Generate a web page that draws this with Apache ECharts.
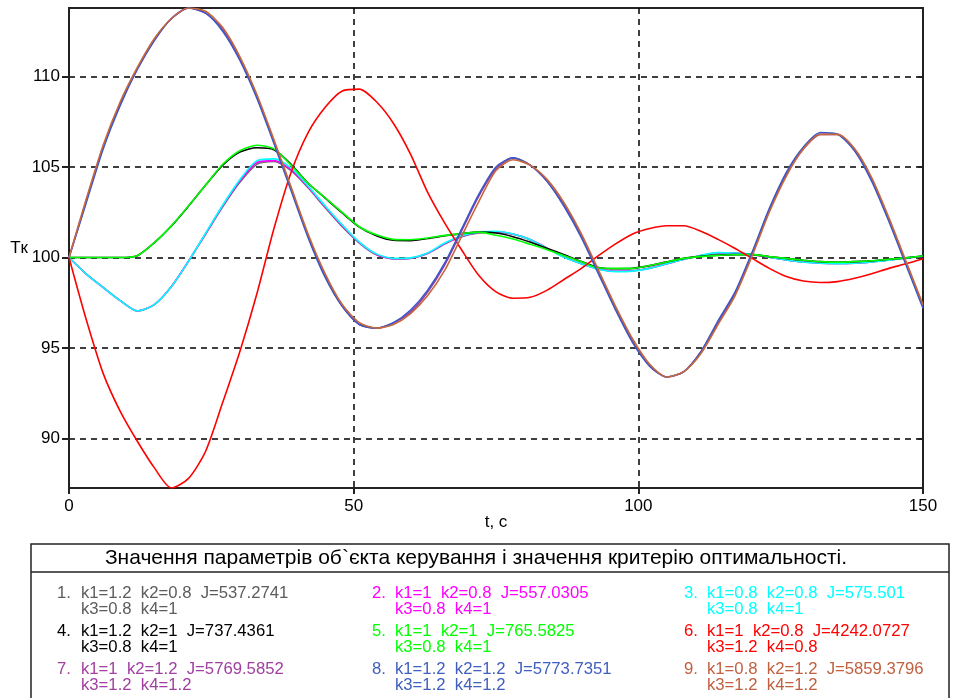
<!DOCTYPE html>
<html>
<head>
<meta charset="utf-8">
<script src="https://cdn.jsdelivr.net/npm/echarts@6/dist/echarts.min.js"></script>
<style>
  html, body { margin: 0; padding: 0; background: #ffffff; }
  #chart { width: 953px; height: 698px; }
</style>
</head>
<body>
<div id="chart"></div>
<script>
// Simulation time, s
const timeS = [0, 3, 6, 9, 12, 15, 18, 21, 24, 27, 30, 33, 36, 39, 42, 45, 48, 51, 54, 57,
  60, 63, 66, 69, 72, 75, 78, 81, 84, 87, 90, 93, 96, 99, 102, 105, 108, 111, 114, 117,
  120, 123, 126, 129, 132, 135, 138, 141, 144, 147, 150];

// Tк responses for the nine parameter sets
const tk1 = [100, 99.1, 98.35, 97.62, 97.05, 97.4, 98.4, 99.8, 101.3, 102.8, 104.15, 105.15, 105.3, 104.8, 103.85, 102.75, 101.7, 100.8, 100.15, 99.92,
  99.95, 100.22, 100.75, 101.15, 101.35, 101.4, 101.28, 100.98, 100.5, 100.02, 99.66, 99.37, 99.24, 99.27, 99.42, 99.66, 99.9, 100.1, 100.24, 100.23,
  100.16, 100.02, 99.87, 99.75, 99.69, 99.67, 99.69, 99.76, 99.86, 99.97, 100.07];
const tk2 = [100, 99.1, 98.35, 97.62, 97.05, 97.4, 98.4, 99.8, 101.32, 102.85, 104.22, 105.25, 105.35, 104.85, 103.9, 102.8, 101.75, 100.82, 100.17, 99.93,
  99.96, 100.23, 100.77, 101.17, 101.38, 101.42, 101.3, 101.0, 100.52, 100.03, 99.66, 99.37, 99.24, 99.26, 99.41, 99.65, 99.9, 100.11, 100.25, 100.24,
  100.17, 100.02, 99.87, 99.75, 99.69, 99.67, 99.69, 99.76, 99.86, 99.97, 100.07];
const tk3 = [100, 99.1, 98.35, 97.62, 97.05, 97.4, 98.4, 99.8, 101.35, 102.9, 104.3, 105.35, 105.45, 104.95, 103.95, 102.85, 101.8, 100.85, 100.2, 99.95,
  99.98, 100.25, 100.8, 101.2, 101.4, 101.45, 101.3, 101.0, 100.5, 100.0, 99.65, 99.35, 99.22, 99.25, 99.4, 99.65, 99.9, 100.12, 100.27, 100.25,
  100.18, 100.02, 99.86, 99.74, 99.68, 99.66, 99.68, 99.75, 99.85, 99.97, 100.08];
const tk4 = [100, 100, 100, 100, 100.1, 100.82, 101.74, 102.84, 104.0, 105.1, 105.82, 106.06, 105.95, 105.15, 104.1, 103.28, 102.46, 101.68, 101.2, 100.95,
  100.93, 101.05, 101.2, 101.32, 101.4, 101.35, 101.15, 100.85, 100.5, 100.15, 99.78, 99.45, 99.38, 99.4, 99.55, 99.76, 99.95, 100.06, 100.13, 100.16,
  100.16, 100.05, 99.95, 99.85, 99.77, 99.74, 99.77, 99.82, 99.9, 99.98, 100.08];
const tk5 = [100, 100, 100, 100, 100.1, 100.82, 101.76, 102.86, 104.0, 105.15, 105.9, 106.2, 106.0, 105.1, 104.1, 103.3, 102.49, 101.7, 101.25, 101.0,
  100.98, 101.08, 101.22, 101.32, 101.4, 101.23, 101.02, 100.73, 100.43, 100.1, 99.77, 99.43, 99.4, 99.4, 99.56, 99.75, 99.95, 100.05, 100.12, 100.15,
  100.16, 100.05, 99.95, 99.85, 99.77, 99.74, 99.77, 99.82, 99.9, 99.98, 100.08];
const tk6 = [100, 96.6, 93.6, 91.5, 89.85, 88.38, 87.27, 87.8, 89.3, 92.0, 94.8, 98.0, 101.6, 104.7, 106.9, 108.3, 109.2, 109.3, 108.6, 107.4,
  105.7, 103.6, 101.9, 100.4, 99.0, 98.1, 97.75, 97.8, 98.2, 98.8, 99.4, 100.1, 100.75, 101.3, 101.6, 101.75, 101.75, 101.45, 101.0, 100.5,
  99.95, 99.4, 98.95, 98.7, 98.62, 98.67, 98.85, 99.1, 99.4, 99.65, 99.93];
const tk7 = [100, 103.1, 106.1, 108.5, 110.4, 112.0, 113.2, 113.78, 113.5, 112.6, 111.0, 108.9, 106.4, 103.8, 101.2, 99.0, 97.3, 96.3, 96.1, 96.4,
  97.0, 98.1, 99.6, 101.5, 103.4, 104.9, 105.5, 105.1, 104.2, 102.9, 101.2, 99.2, 97.2, 95.4, 94.0, 93.4, 93.7, 94.8, 96.4, 98.0,
  100.2, 102.6, 104.6, 106.0, 106.8, 106.8, 105.9, 104.3, 102.1, 99.7, 97.3];
const tk8 = [100, 103.0, 106.0, 108.4, 110.4, 112.0, 113.2, 113.78, 113.5, 112.5, 110.9, 108.8, 106.3, 103.7, 101.1, 98.9, 97.3, 96.3, 96.1, 96.4,
  97.1, 98.2, 99.7, 101.6, 103.5, 105.0, 105.5, 105.1, 104.2, 102.8, 101.1, 99.1, 97.1, 95.3, 94.0, 93.4, 93.7, 94.8, 96.5, 98.1,
  100.3, 102.7, 104.7, 106.1, 106.9, 106.8, 105.9, 104.2, 102.0, 99.6, 97.2];
const tk9 = [100, 103.2, 106.2, 108.6, 110.5, 112.1, 113.2, 113.78, 113.6, 112.7, 111.1, 109.0, 106.5, 103.9, 101.3, 99.1, 97.4, 96.4, 96.1, 96.3,
  96.9, 97.9, 99.3, 101.2, 103.1, 104.8, 105.4, 105.1, 104.3, 103.0, 101.3, 99.3, 97.3, 95.5, 94.1, 93.4, 93.7, 94.7, 96.3, 97.9,
  100.1, 102.5, 104.5, 106.0, 106.8, 106.8, 106.0, 104.4, 102.2, 99.8, 97.4];

const responses = [tk1, tk2, tk3, tk4, tk5, tk6, tk7, tk8, tk9];
const lineColors = ['#6e6e6e', '#ff00ff', '#00ffff', '#000000', '#00ff00', '#ff0000', '#9a3aa6', '#3a58c8', '#c4683e'];
const textColors = ['#5c5c5c', '#ff00ff', '#00ffff', '#000000', '#00ff00', '#ff0000', '#a040a0', '#4060c0', '#c06040'];

// Axis ticks
const yTicks = [90, 95, 100, 105, 110];

// Legend panel text
const panelTitle = 'Значення параметрів об`єкта керування і значення критерію оптимальності.';
const entryNums = ['1.', '2.', '3.', '4.', '5.', '6.', '7.', '8.', '9.'];
const entryLine1 = [
  'k1=1.2  k2=0.8  J=537.2741',
  'k1=1  k2=0.8  J=557.0305',
  'k1=0.8  k2=0.8  J=575.501',
  'k1=1.2  k2=1  J=737.4361',
  'k1=1  k2=1  J=765.5825',
  'k1=1  k2=0.8  J=4242.0727',
  'k1=1  k2=1.2  J=5769.5852',
  'k1=1.2  k2=1.2  J=5773.7351',
  'k1=0.8  k2=1.2  J=5859.3796'
];
const entryLine2 = [
  'k3=0.8  k4=1', 'k3=0.8  k4=1', 'k3=0.8  k4=1',
  'k3=0.8  k4=1', 'k3=0.8  k4=1', 'k3=1.2  k4=0.8',
  'k3=1.2  k4=1.2', 'k3=1.2  k4=1.2', 'k3=1.2  k4=1.2'
];

const FONT = '"Liberation Sans", Arial, sans-serif';
const chart = echarts.init(document.getElementById('chart'));

const series = responses.map((vals, i) => ({
  name: entryNums[i],
  type: 'line',
  data: timeS.map((t, k) => [t, vals[k]]),
  showSymbol: false,
  symbol: 'none',
  smooth: 0.25,
  clip: true,
  lineStyle: { color: lineColors[i], width: 1.6 },
  itemStyle: { color: lineColors[i] },
  animation: false
}));

// Legend panel drawn below the plot
const colX = [57, 372, 684];
const colTextX = [81, 395, 707];
const rowY = [593, 631, 669];
const panel = [
  { type: 'rect', shape: { x: 31, y: 544, width: 918, height: 180 },
    style: { fill: 'none', stroke: '#222', lineWidth: 1.5 } },
  { type: 'line', shape: { x1: 31, y1: 572, x2: 949, y2: 572 },
    style: { stroke: '#222', lineWidth: 1.5 } },
  { type: 'text', x: 476, y: 558,
    style: { text: panelTitle, fill: '#000', font: '21px ' + FONT, align: 'center', verticalAlign: 'middle' } }
];
entryNums.forEach((num, i) => {
  const col = i % 3, row = Math.floor(i / 3);
  const c = textColors[i];
  panel.push({ type: 'text', x: colX[col], y: rowY[row],
    style: { text: num, fill: c, font: '16.7px ' + FONT, verticalAlign: 'middle' } });
  panel.push({ type: 'text', x: colTextX[col], y: rowY[row],
    style: { text: entryLine1[i], fill: c, font: '16.7px ' + FONT, verticalAlign: 'middle' } });
  panel.push({ type: 'text', x: colTextX[col], y: rowY[row] + 16,
    style: { text: entryLine2[i], fill: c, font: '16.7px ' + FONT, verticalAlign: 'middle' } });
});

chart.setOption({
  animation: false,
  backgroundColor: '#ffffff',
  grid: { left: 69, right: 30, top: 8, bottom: 210, show: true, borderColor: '#222', borderWidth: 2, backgroundColor: 'transparent' },
  xAxis: [{
    type: 'value', min: 0, max: 150, interval: 50,
    name: 't, c', nameLocation: 'middle', nameGap: 26, nameMoveOverlap: false,
    nameTextStyle: { fontFamily: FONT, fontSize: 17, color: '#000' },
    axisLine: { show: true, onZero: false, lineStyle: { color: '#222', width: 2 } },
    axisTick: { show: true, inside: false, length: 6, lineStyle: { color: '#222', width: 2 } },
    axisLabel: { fontFamily: FONT, fontSize: 17, color: '#000', margin: 10 },
    splitLine: { show: true, lineStyle: { color: '#000', width: 1.5, type: [6, 5] } }
  }],
  yAxis: [{
    type: 'value', min: 87.27, max: 113.78,
    name: 'Tк', nameLocation: 'middle', nameRotate: 0, nameGap: 41, nameMoveOverlap: false,
    nameTextStyle: { fontFamily: FONT, fontSize: 17, color: '#000', padding: [0, 0, 44, 0] },
    axisLine: { show: true, lineStyle: { color: '#222', width: 2 } },
    axisTick: { show: true, inside: false, length: 7, customValues: yTicks, lineStyle: { color: '#222', width: 2 } },
    axisLabel: { fontFamily: FONT, fontSize: 17, color: '#000', margin: 9, customValues: yTicks },
    splitLine: { show: true, lineStyle: { color: '#000', width: 1.5, type: [6, 5] } }
  }, {
    type: 'value', min: 87.27, max: 113.78, position: 'right',
    axisLine: { show: true, lineStyle: { color: '#222', width: 2 } },
    axisTick: { show: true, inside: true, length: 5, customValues: yTicks, lineStyle: { color: '#222', width: 2 } },
    axisLabel: { show: false, customValues: yTicks },
    splitLine: { show: false }
  }],
  series: series,
  graphic: { elements: panel }
});
</script>
</body>
</html>
